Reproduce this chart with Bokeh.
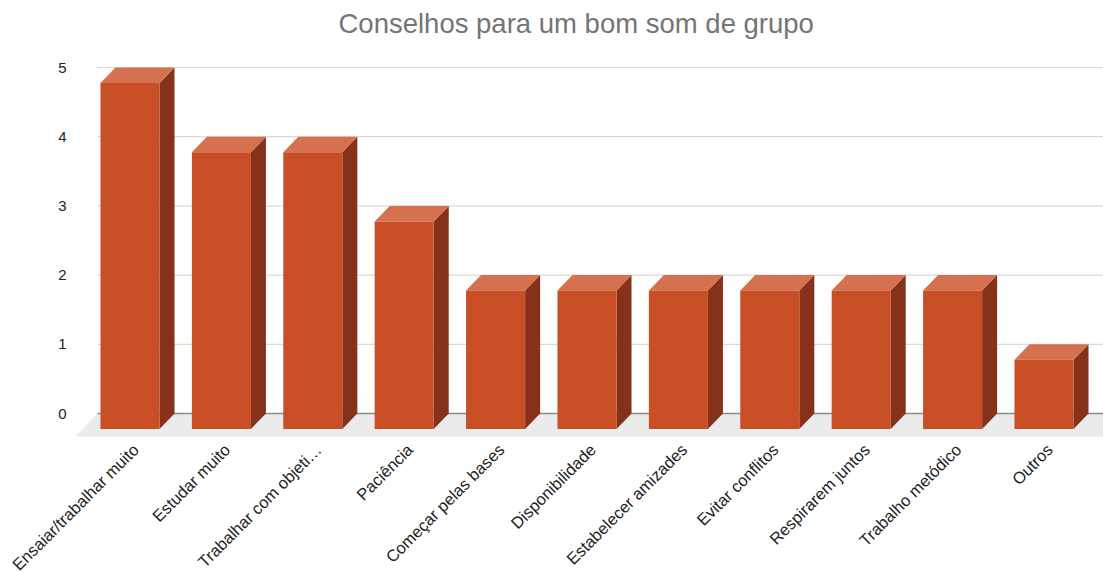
import numpy as np
from bokeh.plotting import figure
from bokeh.models import Range1d, ColumnDataSource, LabelSet
from bokeh.core.properties import value
from bokeh.embed import file_html
from bokeh.resources import INLINE

# ---- data ----
title_text = "Conselhos para um bom som de grupo"
categories = [
    "Ensaiar/trabalhar muito",
    "Estudar muito",
    "Trabalhar com objeti\u2026",
    "Paci\u00eancia",
    "Come\u00e7ar pelas bases",
    "Disponibilidade",
    "Estabelecer amizades",
    "Evitar conflitos",
    "Respirarem juntos",
    "Trabalho met\u00f3dico",
    "Outros",
]
values = [5, 4, 4, 3, 2, 2, 2, 2, 2, 2, 1]
y_ticks = [0, 1, 2, 3, 4, 5]

# ---- geometry (data units) ----
FRONT_L, FRONT_R = -0.405, 0.241   # front face relative to category center
DX, DY = 0.164, 0.224              # 3D depth offset
X_START, X_END = -1.499, 10.569
Y_START, Y_END = -2.312, 5.347
FLOOR_Y = -0.332
FLOOR_X0 = -0.678
GRID_X0 = -0.438
LABEL_Y = -0.48
LABEL_DX = -0.02
YLAB_X = -0.777

FRONT = "#C84E25"
TOP = "#D6714F"
SIDE = "#86311A"
FONT = "Liberation Sans"

p = figure(
    width=1103, height=573,
    output_backend="svg", toolbar_location=None,
    x_range=Range1d(X_START, X_END), y_range=Range1d(Y_START, Y_END),
    x_axis_location=None, y_axis_location=None,
    min_border_left=0, min_border_right=0, min_border_bottom=0, min_border_top=0,
    title=title_text,
)
p.outline_line_color = None
p.xgrid.visible = False
p.ygrid.visible = False
p.background_fill_color = "white"
p.border_fill_color = "white"

p.title.align = "left"
p.title.offset = 338
p.title.text_font = FONT
p.title.text_font_size = "27.5px"
p.title.text_font_style = "normal"
p.title.text_color = "#757575"

# floor
p.patch([GRID_X0, X_END + 0.2, X_END, FLOOR_X0], [0, 0, FLOOR_Y, FLOOR_Y],
        fill_color="#EBEBEB", line_color=None)

# grid lines
gy = [t for t in y_ticks if t > 0]
p.segment(x0=[GRID_X0] * len(gy), y0=gy, x1=[X_END] * len(gy), y1=gy,
          line_color="#D9D9D9", line_width=1.2)
p.segment(x0=[GRID_X0], y0=[0], x1=[X_END], y1=[0], line_color="#8A8A8A", line_width=1.5)

# y tick labels
p.text(x=[YLAB_X] * len(y_ticks), y=y_ticks, text=[str(t) for t in y_ticks],
       text_align="right", text_baseline="middle",
       text_font=value(FONT), text_font_size="15px", text_color="#222222")

# bars
idx = np.arange(len(values), dtype=float)
v = np.array(values, dtype=float)

side_xs = [[c + FRONT_R, c + FRONT_R + DX, c + FRONT_R + DX, c + FRONT_R] for c in idx]
side_ys = [[-DY, 0, h, h - DY] for h in v]
p.patches(side_xs, side_ys, fill_color=SIDE, line_color=None)

top_xs = [[c + FRONT_L, c + FRONT_R, c + FRONT_R + DX, c + FRONT_L + DX] for c in idx]
top_ys = [[h - DY, h - DY, h, h] for h in v]
p.patches(top_xs, top_ys, fill_color=TOP, line_color=None)

p.quad(left=idx + FRONT_L, right=idx + FRONT_R, bottom=-DY, top=v - DY,
       fill_color=FRONT, line_color=None)

# category labels
lab_src = ColumnDataSource(dict(x=idx + LABEL_DX, y=[LABEL_Y] * len(idx), text=categories))
labels = LabelSet(x="x", y="y", text="text", source=lab_src, angle=np.pi / 4,
                  text_align="right", text_baseline="middle",
                  text_font=value(FONT), text_font_size="16.5px",
                  text_color="#222222")
p.add_layout(labels)

open("out.html", "w").write(file_html(p, INLINE))
